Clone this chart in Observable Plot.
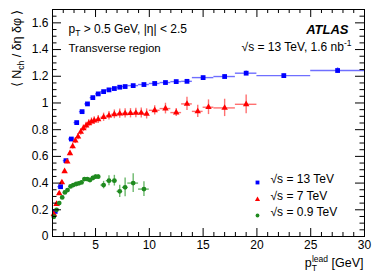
<!DOCTYPE html>
<html>
<head>
<meta charset="utf-8">
<script src="https://cdn.jsdelivr.net/npm/d3@7"></script>
<script src="https://cdn.jsdelivr.net/npm/@observablehq/plot@0.6"></script>
<style>
  html, body { margin: 0; padding: 0; background: #fff; }
  #chart { width: 374px; height: 280px; }
</style>
</head>
<body>
<div id="chart"></div>
<script>
// ---- data: sqrt(s) = 13 TeV ----
const x13 = [1.25,1.75,2.25,2.75,3.25,3.75,4.25,4.75,5.25,5.75,6.25,6.75,7.25,7.75,8.5,9.5,10.5,11.5,12.5,13.5,15,17,19,22.5,27.5];
const y13 = [0.188,0.373,0.568,0.73,0.853,0.935,0.993,1.04,1.068,1.085,1.098,1.108,1.118,1.123,1.13,1.138,1.146,1.153,1.16,1.162,1.19,1.198,1.223,1.205,1.243];
const ey13 = [0.003,0.004,0.005,0.005,0.005,0.005,0.005,0.005,0.005,0.005,0.006,0.006,0.007,0.007,0.006,0.007,0.008,0.009,0.01,0.011,0.01,0.013,0.016,0.012,0.02];
const lo13 = [1,1.5,2,2.5,3,3.5,4,4.5,5,5.5,6,6.5,7,7.5,8,9,10,11,12,13,14,16,18,20,25];
const hi13 = [1.5,2,2.5,3,3.5,4,4.5,5,5.5,6,6.5,7,7.5,8,9,10,11,12,13,14,16,18,20,25,30];

// ---- data: sqrt(s) = 7 TeV ----
const x7 = [1.125,1.375,1.625,1.875,2.125,2.375,2.625,2.875,3.125,3.375,3.625,3.875,4.125,4.375,4.625,4.875,5.25,5.75,6.25,6.75,7.25,7.75,8.25,8.75,9.25,9.75,10.5,11.5,12.5,13.5,14.5,15.5,17,19];
const y7 = [0.168,0.243,0.323,0.405,0.488,0.56,0.623,0.675,0.718,0.748,0.783,0.81,0.83,0.848,0.86,0.868,0.877,0.893,0.905,0.915,0.92,0.922,0.923,0.925,0.925,0.918,0.945,0.958,0.928,0.993,0.937,0.968,0.963,0.99];
const ey7 = [0.008,0.01,0.012,0.014,0.015,0.016,0.018,0.02,0.022,0.023,0.024,0.025,0.026,0.027,0.028,0.029,0.03,0.031,0.032,0.033,0.034,0.035,0.035,0.036,0.037,0.038,0.035,0.04,0.03,0.05,0.045,0.055,0.065,0.07];
const lo7 = [1,1.25,1.5,1.75,2,2.25,2.5,2.75,3,3.25,3.5,3.75,4,4.25,4.5,4.75,5,5.5,6,6.5,7,7.5,8,8.5,9,9.5,10,11,12,13,14,15,16,18];
const hi7 = [1.25,1.5,1.75,2,2.25,2.5,2.75,3,3.25,3.5,3.75,4,4.25,4.5,4.75,5,5.5,6,6.5,7,7.5,8,8.5,9,9.5,10,11,12,13,14,15,16,18,20];

// ---- data: sqrt(s) = 0.9 TeV ----
const x09 = [1.125,1.375,1.625,1.9,2.15,2.4,2.68,2.93,3.2,3.45,3.7,3.97,4.23,4.48,4.75,5.0,5.25,5.75,6.25,6.75,7.25,7.75,8.5,9.5];
const y09 = [0.148,0.2,0.25,0.293,0.33,0.348,0.375,0.385,0.393,0.398,0.405,0.43,0.43,0.423,0.438,0.448,0.448,0.385,0.418,0.418,0.338,0.368,0.40,0.355];
const ey09 = [0.005,0.005,0.006,0.006,0.007,0.007,0.008,0.008,0.009,0.009,0.01,0.01,0.011,0.012,0.013,0.014,0.015,0.028,0.037,0.04,0.046,0.07,0.07,0.055];
const lo09 = [1,1.25,1.5,1.77,2.02,2.27,2.55,2.8,3.07,3.32,3.57,3.84,4.1,4.35,4.62,4.87,5.12,5.5,6,6.5,7,7.5,8,9];
const hi09 = [1.25,1.5,1.75,2.02,2.27,2.52,2.8,3.05,3.32,3.57,3.82,4.1,4.35,4.6,4.87,5.12,5.37,6,6.5,7,7.5,8,9,10];

// ---- axis ticks ----
const xMajor = [5,10,15,20,25,30];
const xMinor = d3.range(1, 31).filter(v => v % 5 !== 0);
const yMajor = [0,0.2,0.4,0.6,0.8,1,1.2,1.4,1.6];
const yMinor = d3.range(0, 35).map(i => +(i*0.05).toFixed(2)).filter(v => Math.round(v*100) % 20 !== 0);

// ---- labels ----
const series = [
  {key: "13", label: "√s = 13 TeV", color: "#0000ff", bar: "#6f6fff", symbol: "square", r: 2.7, x: x13, y: y13, ey: ey13, lo: lo13, hi: hi13},
  {key: "7", label: "√s = 7 TeV", color: "#ff0000", bar: "#ff7070", symbol: "triangle", r: 2.4, x: x7, y: y7, ey: ey7, lo: lo7, hi: hi7},
  {key: "0.9", label: "√s = 0.9 TeV", color: "#1f8a1f", bar: "#6cb86c", symbol: "circle", r: 2.4, x: x09, y: y09, ey: ey09, lo: lo09, hi: hi09}
];

const W = 374, H = 280;
const mL = 52, mR = 10, mT = 9, mB = 44;
const iW = W - mL - mR, iH = H - mT - mB;
const font = "'Liberation Sans', Arial, Helvetica, sans-serif";

const marks = [];
for (const s of series) {
  const rows = s.x.map((x, i) => ({x, y: s.y[i], ylo: s.y[i] - s.ey[i], yhi: s.y[i] + s.ey[i], xlo: s.lo[i], xhi: s.hi[i]}));
  marks.push(Plot.ruleY(rows, {y: "y", x1: "xlo", x2: "xhi", stroke: s.bar, strokeWidth: 1.4}));
  marks.push(Plot.ruleX(rows, {x: "x", y1: "ylo", y2: "yhi", stroke: s.bar, strokeWidth: 1.4}));
  marks.push(Plot.dot(rows, {x: "x", y: "y", symbol: s.symbol, fill: s.color, stroke: "none", r: s.r}));
}

// ticks inside the frame on all four sides
marks.push(
  Plot.tickX(xMajor, {x: d => d, insetTop: iH - 8, stroke: "#000"}),
  Plot.tickX(xMinor, {x: d => d, insetTop: iH - 4, stroke: "#000"}),
  Plot.tickX(xMajor, {x: d => d, insetBottom: iH - 8, stroke: "#000"}),
  Plot.tickX(xMinor, {x: d => d, insetBottom: iH - 4, stroke: "#000"}),
  Plot.tickY(yMajor, {y: d => d, insetRight: iW - 9, stroke: "#000"}),
  Plot.tickY(yMinor, {y: d => d, insetRight: iW - 4.5, stroke: "#000"}),
  Plot.tickY(yMajor, {y: d => d, insetLeft: iW - 9, stroke: "#000"}),
  Plot.tickY(yMinor, {y: d => d, insetLeft: iW - 4.5, stroke: "#000"}),
  Plot.frame({stroke: "#000"})
);

// annotations
marks.push(
  Plot.text(["ANN_PT"], {text: d => d, frameAnchor: "top-left", dx: 16, dy: 15, textAnchor: "start", fontSize: 12}),
  Plot.text(["Transverse region"], {text: d => d, frameAnchor: "top-left", dx: 16, dy: 34, textAnchor: "start", fontSize: 11.5}),
  Plot.text(["ATLAS"], {text: d => d, frameAnchor: "top-right", dx: -16, dy: 15, textAnchor: "end", fontSize: 13, fontWeight: "bold", fontStyle: "italic"}),
  Plot.text(["ANN_SQRTS"], {text: d => d, frameAnchor: "top-right", dx: -13, dy: 33, textAnchor: "end", fontSize: 12}),
  Plot.text(["ANN_YTITLE"], {text: d => d, frameAnchor: "top-left", dx: -40, dy: 0, rotate: -90, textAnchor: "end", fontSize: 12.5}),
  Plot.text(["ANN_XTITLE"], {text: d => d, frameAnchor: "bottom-right", dx: -1, dy: 30, textAnchor: "end", fontSize: 12.5})
);

// legend (inside plot, lower right)
const legDy = [-54, -37, -21];
series.forEach((s, i) => {
  marks.push(
    Plot.dot([s.key], {frameAnchor: "bottom-right", dx: -107, dy: legDy[i], symbol: s.symbol, fill: s.color, stroke: "none", r: s.r * 0.8}),
    Plot.text([s.label], {text: d => d, frameAnchor: "bottom-right", dx: -94, dy: legDy[i], textAnchor: "start", fontSize: 12})
  );
});

const chart = Plot.plot({
  width: W, height: H,
  marginLeft: mL, marginRight: mR, marginTop: mT, marginBottom: mB,
  style: {fontFamily: font, fontSize: "12px", color: "#000", background: "#fff"},
  x: {domain: [1, 30], ticks: xMajor, tickSize: 0, tickPadding: 4, label: null, tickFormat: d => String(d)},
  y: {domain: [0, 1.7], ticks: yMajor, tickSize: 0, tickPadding: 4, label: null, tickFormat: d => String(d)},
  marks
});

// rich text (sub/superscripts)
function rich(el, parts) {
  el.textContent = "";
  const sel = d3.select(el);
  for (const p of parts) {
    const ts = sel.append("tspan").text(p.t);
    if (p.dx != null) ts.attr("dx", p.dx);
    if (p.dy != null) ts.attr("dy", p.dy);
    if (p.fs != null) ts.attr("font-size", p.fs);
  }
}
const richMap = {
  "ANN_PT": [{t: "p"}, {t: "T", dy: 3, fs: 8.5}, {t: " > 0.5 GeV, |η| < 2.5", dy: -3}],
  "ANN_SQRTS": [{t: "√s = 13 TeV, 1.6 nb"}, {t: "-1", dy: -5, fs: 8.5}],
  "ANN_YTITLE": [{t: "⟨ N"}, {t: "ch", dy: 3, fs: 8.5}, {t: " / δη δφ ⟩", dy: -3}],
  "ANN_XTITLE": [{t: "p"}, {t: "T", dy: 4, fs: 8.5}, {t: "lead", dx: -5, dy: -9, fs: 8.5}, {t: " [GeV]", dy: 5}]
};
d3.select(chart).selectAll("text").each(function() {
  const k = this.textContent;
  if (richMap[k]) rich(this, richMap[k]);
});

document.getElementById("chart").appendChild(chart);
</script>
</body>
</html>
